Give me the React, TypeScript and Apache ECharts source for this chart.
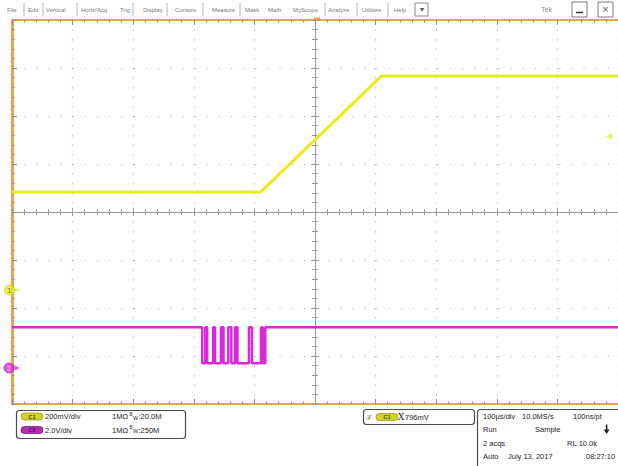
import React, { useEffect, useRef } from "react";
import * as echarts from "echarts";

// Horizontal: 100 µs/div over 10 divisions, trigger point at centre
const timeMin = -500;
const timeMax = 500;
const timePerDiv = 100;

// Vertical graticule: 8 divisions
const divMin = -4;
const divMax = 4;

// Channel 1, 200 mV/div
const ch1Times = [-500, -90, 110, 500];
const ch1Millivolts = [563, 563, 1047, 1047];
const ch1Min = -320;
const ch1Max = 1280;
const ch1MarkerDiv = -1.625;

// Channel 2, 2.0 V/div — each level holds from its time until the next one
const ch2Times = [-500, -186, -181, -178, -168, -165, -155, -151, -143, -138, -132, -128, -109, -104, -89, -86, -82, 500];
const ch2Volts = [1.7, 0.2, 1.7, 0.2, 1.7, 0.2, 1.7, 0.2, 1.7, 0.2, 1.7, 0.2, 1.7, 0.2, 1.7, 0.2, 1.7, 1.7];
const ch2Min = -1.5;
const ch2Max = 14.5;
const ch2MarkerDiv = -3.25;

// Trigger on C1
const triggerLevelMv = 796;

const menuLabels = ["File", "Edit", "Vertical", "Horiz/Acq", "Trig", "Display", "Cursors", "Measure", "Mask", "Math", "MyScope", "Analyze", "Utilities", "Help"];

const ch1Scale = "200mV/div";
const ch2Scale = "2.0V/div";
const ch1Bandwidth = ":20.0M";
const ch2Bandwidth = ":250M";
const triggerText = `${triggerLevelMv}mV`;
const statusRows = [
  ["100µs/div", "10.0MS/s", "100ns/pt"],
  ["Run", "Sample"],
  ["2 acqs", "RL:10.0k"],
  ["Auto", "July 13, 2017", "08:27:10"],
];

const FONT = '"Liberation Sans", Arial, sans-serif';
const YELLOW = "#ecec1c";
const MAGENTA = "#dc25dc";
const BORDER = "#e6a650";
const TICK = "#8c8c8c";
const DOT = "#b5b5b5";
const CENTRE = "#9a9a9a";

const GRID = { left: 12, top: 20, width: 608, height: 384 };
const dotStepX = GRID.width / 10 / 5;
const dotStepY = GRID.height / 8 / 5;

function text(x: number, y: number, s: string, o: any = {}) {
  const size = o.size ?? 7.5;
  return {
    type: "text",
    x,
    y,
    silent: true,
    z: 10,
    style: {
      text: s,
      fill: o.fill ?? "#1e1e1e",
      font: `${o.weight ?? "normal"} ${size}px ${o.family ?? FONT}`,
      align: o.align ?? "left",
      verticalAlign: "middle",
      textAlign: o.align ?? "left",
      textVerticalAlign: "middle",
    },
  };
}

function box(x: number, y: number, w: number, h: number, o: any = {}) {
  return {
    type: "rect",
    silent: true,
    z: 9,
    shape: { x, y, width: w, height: h, r: o.r ?? 3 },
    style: { fill: o.fill ?? "#ffffff", stroke: o.stroke ?? "#555555", lineWidth: o.lineWidth ?? 1 },
  };
}

function pill(x: number, y: number, label: string, fill: string, stroke: string, textFill: string) {
  return [
    box(x, y, 22, 7, { r: 3.5, fill, stroke, lineWidth: 0.8 }),
    text(x + 11, y + 3.7, label, { size: 5.5, weight: "bold", fill: textFill, align: "center" }),
  ];
}

function buildGraphics() {
  const g: any[] = [];
  // menu bar
  const menuX = [7, 28, 46, 81, 120, 143, 175, 212, 245, 268, 293, 328, 362, 394];
  menuLabels.forEach((m, i) => g.push(text(menuX[i], 9.5, m, { size: 6, fill: "#7a7a7a" })));
  [24, 43, 77, 133, 167, 203, 240, 325, 357, 388].forEach((x) =>
    g.push({ type: "line", silent: true, shape: { x1: x, y1: 3, x2: x, y2: 16 }, style: { stroke: "#b4b4b4", lineWidth: 1 } })
  );
  g.push(box(415, 3, 13, 13, { r: 0, stroke: "#8a8a8a" }));
  g.push(text(421.5, 9.5, "▾", { size: 8, fill: "#555", align: "center" }));
  g.push(text(541, 9.5, "Tek", { size: 7, fill: "#8a8a8a" }));
  g.push(box(572, 2, 15, 15, { r: 0, stroke: "#7a7a7a" }));
  g.push({ type: "line", silent: true, z: 10, shape: { x1: 576, y1: 12.5, x2: 583, y2: 12.5 }, style: { stroke: "#333", lineWidth: 1.5 } });
  g.push(box(598, 2, 15, 15, { r: 0, stroke: "#7a7a7a" }));
  g.push(text(605.5, 9.5, "X", { size: 8, fill: "#333", align: "center" }));

  // channel readout box
  g.push(box(16.5, 410.5, 169, 28, { stroke: "#4a4a4a", lineWidth: 1.2 }));
  g.push(...pill(21, 413, "C1", "#d2d22a", "#9a9a18", "#4a4a10"));
  g.push(...pill(21, 426.5, "C2", "#b52db5", "#7a1a7a", "#5a105a"));
  [[416.5, ch1Scale, ch1Bandwidth], [430, ch2Scale, ch2Bandwidth]].forEach(([y, scale, bw]: any) => {
    g.push(text(45, y, scale, { size: 7.5 }));
    g.push(text(112, y, "1MΩ", { size: 7.5 }));
    g.push(text(129.5, y - 2.5, "B", { size: 4.5 }));
    g.push(text(133, y + 1, "W", { size: 5.5 }));
    g.push(text(138.5, y, bw, { size: 7.5 }));
  });

  // trigger readout box
  g.push(box(363.5, 409.5, 111, 15, { stroke: "#4a4a4a", lineWidth: 1.2 }));
  g.push(text(366, 417, "ℱ", { size: 7, fill: "#707040" }));
  g.push(...pill(376, 413.5, "C1", "#d2d22a", "#9a9a18", "#4a4a10"));
  g.push(text(398, 417, "X", { size: 9, family: '"DejaVu Serif", serif', fill: "#222" }));
  g.push(text(405, 417, triggerText, { size: 7.5 }));

  // acquisition readout box
  g.push(box(477.5, 409.5, 150, 62, { stroke: "#4a4a4a", lineWidth: 1.2 }));
  const rowY = [416, 429.5, 443, 456.5];
  const colX = [
    [483, 522, 573],
    [483, 535],
    [483, 567],
    [483, 508, 586],
  ];
  statusRows.forEach((row, r) => row.forEach((s, c) => g.push(text(colX[r][c], rowY[r], s, { size: 7.5 }))));
  // stop-after arrow
  g.push({ type: "rect", silent: true, z: 10, shape: { x: 605.8, y: 424.5, width: 1.6, height: 6 }, style: { fill: "#222" } });
  g.push({ type: "polygon", silent: true, z: 10, shape: { points: [[603.6, 429.5], [609.6, 429.5], [606.6, 434]] }, style: { fill: "#222" } });
  return g;
}

function borderAxis(position: string, isX: boolean, withDots: boolean) {
  return {
    type: "value",
    position,
    min: isX ? timeMin : divMin,
    max: isX ? timeMax : divMax,
    interval: isX ? timePerDiv : 1,
    axisLine: { show: true, onZero: false, lineStyle: { color: BORDER, width: isX ? 2 : 3 } },
    axisTick: { show: true, inside: true, length: 5, lineStyle: { color: TICK, width: 1 } },
    minorTick: { show: true, splitNumber: 5, length: 2.5, lineStyle: { color: TICK, width: 1 } },
    axisLabel: { show: false },
    splitLine: {
      show: withDots,
      lineStyle: {
        color: DOT,
        width: 1.2,
        type: isX ? [1.2, dotStepY - 1.2] : [1.2, dotStepX - 1.2],
      },
    },
    minorSplitLine: { show: false },
  };
}

function centreAxis(position: string, isX: boolean) {
  return {
    type: "value",
    position,
    min: isX ? timeMin : divMin,
    max: isX ? timeMax : divMax,
    interval: isX ? timePerDiv : 1,
    axisLine: { show: true, onZero: true, onZeroAxisIndex: 0, lineStyle: { color: CENTRE, width: 1 } },
    axisTick: { show: true, inside: true, length: 4, lineStyle: { color: CENTRE, width: 1 } },
    minorTick: { show: true, splitNumber: 5, length: 3, lineStyle: { color: CENTRE, width: 1 } },
    axisLabel: { show: false },
    splitLine: { show: false },
  };
}

function buildOption(): any {
  return {
    animation: false,
    backgroundColor: "#ffffff",
    grid: { ...GRID, show: false },
    xAxis: [
      borderAxis("bottom", true, true),
      borderAxis("top", true, false),
      centreAxis("bottom", true),
      centreAxis("top", true),
    ],
    yAxis: [
      borderAxis("left", false, true),
      centreAxis("left", false),
      centreAxis("right", false),
      { type: "value", show: false, min: ch1Min, max: ch1Max, axisLine: { onZero: false }, splitLine: { show: false } },
      { type: "value", show: false, min: ch2Min, max: ch2Max, axisLine: { onZero: false }, splitLine: { show: false } },
    ],
    series: [
      {
        type: "line",
        name: "C2",
        xAxisIndex: 0,
        yAxisIndex: 4,
        step: "end",
        showSymbol: false,
        data: ch2Times.map((t, i) => [t, ch2Volts[i]]),
        lineStyle: { color: MAGENTA, width: 2.5 },
        z: 3,
      },
      {
        type: "line",
        name: "C1",
        xAxisIndex: 0,
        yAxisIndex: 3,
        showSymbol: false,
        data: ch1Times.map((t, i) => [t, ch1Millivolts[i]]),
        lineStyle: { color: YELLOW, width: 3 },
        z: 4,
      },
      {
        type: "scatter",
        name: "markers",
        xAxisIndex: 0,
        yAxisIndex: 0,
        clip: false,
        silent: true,
        z: 6,
        data: [
          {
            value: [timeMin, ch1MarkerDiv],
            symbol: "rect",
            symbolSize: [7, 1.5],
            symbolOffset: [4, 0],
            itemStyle: { color: YELLOW },
          },
          {
            value: [timeMin, ch1MarkerDiv],
            symbol: "circle",
            symbolSize: 10,
            symbolOffset: [-2.5, 0],
            itemStyle: { color: YELLOW, borderColor: "#c8c800", borderWidth: 0.8 },
            label: { show: true, position: "inside", formatter: "1", fontSize: 7, color: "#333", fontFamily: FONT },
          },
          {
            value: [timeMin, ch2MarkerDiv],
            symbol: "triangle",
            symbolRotate: -90,
            symbolSize: [5, 5],
            symbolOffset: [5, 0],
            itemStyle: { color: MAGENTA },
          },
          {
            value: [timeMin, ch2MarkerDiv],
            symbol: "circle",
            symbolSize: 10,
            symbolOffset: [-3, 0],
            itemStyle: { color: MAGENTA, borderColor: "#a010a0", borderWidth: 0.8 },
            label: { show: true, position: "inside", formatter: "2", fontSize: 7, color: "#fff", fontFamily: FONT },
          },
          {
            value: [0, divMax],
            symbol: "rect",
            symbolSize: [6, 3],
            symbolOffset: [2, -1],
            itemStyle: { color: "#f08a2a" },
          },
        ],
      },
      {
        type: "scatter",
        name: "trigger level",
        xAxisIndex: 0,
        yAxisIndex: 3,
        clip: false,
        silent: true,
        z: 6,
        data: [
          {
            value: [timeMax, triggerLevelMv],
            symbol: "triangle",
            symbolRotate: 90,
            symbolSize: [6, 6],
            symbolOffset: [-9, 0],
            itemStyle: { color: YELLOW },
          },
        ],
      },
    ],
    graphic: buildGraphics(),
  };
}

export default function App() {
  const ref = useRef<HTMLDivElement>(null);
  useEffect(() => {
    if (!ref.current) return;
    const chart = echarts.init(ref.current, null, { renderer: "svg" });
    chart.setOption(buildOption());
    return () => chart.dispose();
  }, []);
  return (
    <div
      ref={ref}
      style={{ position: "fixed", left: 0, top: 0, width: 618, height: 466, background: "#ffffff" }}
    />
  );
}
